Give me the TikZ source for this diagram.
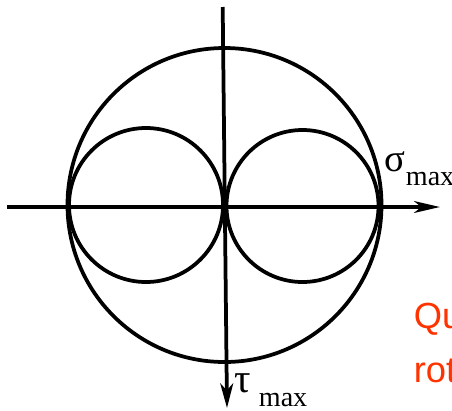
\documentclass[tikz,border=0pt]{standalone}
\usepackage{fontspec}
\setmainfont{Liberation Serif}
\newfontfamily\notefont{Liberation Sans}
\usetikzlibrary{arrows.meta}
\definecolor{notered}{RGB}{255,51,0}

\begin{document}
\begin{tikzpicture}[x=0.03cm, y=-0.03cm, line width=3.2pt,
    ax/.style={-{Stealth[length=22pt, width=10pt, inset=6pt]}},
    greek/.style={anchor=base west, inner sep=0pt, font=\fontsize{33}{33}\selectfont},
    lbl/.style={anchor=base west, inner sep=0pt, font=\fontsize{24}{24}\selectfont},
    note/.style={anchor=base west, inner sep=0pt, text=notered, font=\notefont\fontsize{31}{31}\selectfont}]
    \useasboundingbox (0,0) rectangle (452,410);
    % axes
    \coordinate (w) at (7,207);
    \coordinate (e) at (440,207);
    \coordinate (n) at (222.7,7);
    \coordinate (s) at (227,408);
    \draw[ax] (w) -- (e);
    \draw[-{Stealth[length=21pt, width=11pt, inset=6pt]}] (n) -- (s);
    % circles
    \draw (224.5,205) circle[radius=157];
    \draw (146,205) circle[radius=77];
    \draw (302.5,206) circle[radius=76];
    % labels
    \node[greek] (sig) at (383,171) {σ};
    \node[lbl] (sigm) at (404,185) {max};
    \node[greek, font=\fontsize{35}{35}\selectfont] (tau) at (233,392) {τ};
    \node[lbl] (taum) at (257,406) {max};
    \node[note] (q1) at (412,328) {Qu};
    \node[note] (q2) at (412,382) {rot};
\end{tikzpicture}
\end{document}
